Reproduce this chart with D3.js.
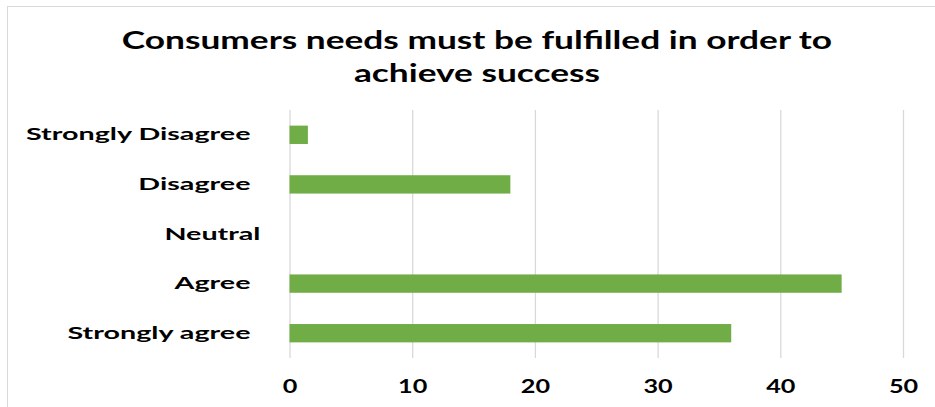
<!DOCTYPE html>
<html>
<head>
<meta charset="utf-8">
<script src="https://cdn.jsdelivr.net/npm/d3@7"></script>
<style>
  html, body { margin: 0; padding: 0; background: #ffffff; }
  svg { display: block; }
  text { font-family: Lato, "Open Sans", sans-serif; fill: #000; }
</style>
</head>
<body>
<svg id="chart" width="935" height="407"></svg>
<script>
// Survey responses, listed top to bottom
const categories = ["Strongly Disagree", "Disagree", "Neutral", "Agree", "Strongly agree"];
const responses = [1.5, 18, 0, 45, 36];
const xTicks = [0, 10, 20, 30, 40, 50];
const titleLines = ["Consumers needs must be fulfilled in order to", "achieve success"];

const svg = d3.select("#chart");
const W = 935, H = 407;

// widen glyphs horizontally by a fixed factor, keeping the anchor in place
function widen(sel, factor) {
  sel.each(function () {
    const w = this.getComputedTextLength();
    d3.select(this).attr("textLength", w * factor).attr("lengthAdjust", "spacingAndGlyphs");
  });
}

// chart area frame
svg.append("rect")
  .attr("x", 7.5).attr("y", 6.5)
  .attr("width", W + 10).attr("height", H + 10)
  .attr("fill", "#fff").attr("stroke", "#d9d9d9").attr("stroke-width", 1);

const x = d3.scaleLinear().domain([0, 50]).range([289.5, 903]);
const y = d3.scaleBand().domain(categories).range([110, 358])
  .paddingInner(0.63).paddingOuter(0.315);

// vertical gridlines and value ticks
const xAxis = d3.axisBottom(x).tickValues(xTicks).tickSize(-(358 - 110)).tickPadding(22);
const gx = svg.append("g").attr("transform", "translate(0,358)").call(xAxis);
gx.select(".domain").remove();
gx.selectAll(".tick line").attr("stroke", "#d9d9d9").attr("stroke-width", 1.3);
gx.selectAll(".tick text")
  .attr("font-size", 18).attr("font-weight", 700)
  .style("font-family", "Lato, sans-serif").attr("fill", "#000")
  .call(widen, 1.4);

// category labels
const yAxis = d3.axisLeft(y).tickSize(0).tickPadding(39);
const gy = svg.append("g").attr("transform", "translate(289.5,0)").call(yAxis);
gy.select(".domain").remove();
gy.selectAll(".tick text")
  .attr("font-size", 17.5).attr("font-weight", 700)
  .attr("dx", d => d === "Neutral" ? 10 : 0)
  .style("font-family", "Lato, sans-serif").attr("fill", "#000")
  .call(widen, 1.64);

// bars
svg.append("g").selectAll("rect")
  .data(categories.map((c, i) => ({ c, v: responses[i] })).filter(d => d.v > 0))
  .join("rect")
  .attr("x", x(0))
  .attr("y", d => y(d.c))
  .attr("width", d => x(d.v) - x(0))
  .attr("height", y.bandwidth())
  .attr("fill", "#70ad47");

// title
svg.append("g").selectAll("text")
  .data(titleLines)
  .join("text")
  .attr("x", 477)
  .attr("y", (d, i) => 49 + i * 33)
  .attr("text-anchor", "middle")
  .attr("font-size", 25)
  .attr("font-weight", 700)
  .text(d => d)
  .call(widen, 1.41);
</script>
</body>
</html>
